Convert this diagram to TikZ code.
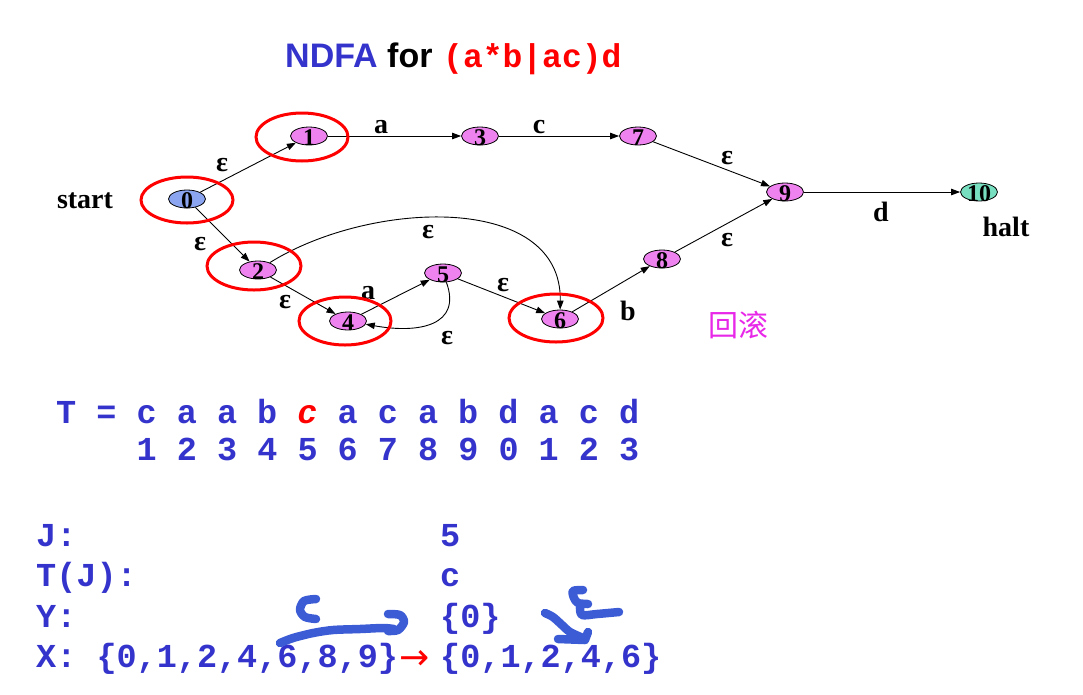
\documentclass[tikz,border=0pt]{standalone}
\usepackage{fontspec}
\setmainfont{Liberation Serif}
\newfontfamily\sansfam{Liberation Sans}
\newfontfamily\monofam{Liberation Mono}
\newfontfamily\cjkfam{Noto Sans CJK SC}
\newfontfamily\symfam{DejaVu Sans}
\usetikzlibrary{arrows.meta,shapes.geometric}

\definecolor{txtblue}{RGB}{52,52,204}
\definecolor{statepink}{RGB}{238,130,238}
\definecolor{startblue}{RGB}{140,165,240}
\definecolor{haltgreen}{RGB}{120,222,192}
\definecolor{penblue}{RGB}{60,92,214}
\definecolor{rollmag}{RGB}{232,40,232}

% digit inside a state: no height, so the ellipse keeps its fixed size
\newcommand\stnum[1]{\raisebox{-0.38em}[0pt][0pt]{#1}}

\begin{document}
\begin{tikzpicture}[x=1pt,y=-1pt,
  state/.style={ellipse, draw=black, line width=0.8pt, fill=statepink,
    minimum width=37pt, minimum height=18pt, inner sep=0pt,
    font=\bfseries\fontsize{24}{24}\selectfont},
  trans/.style={draw, line width=0.9pt, -{Triangle[length=9pt,width=6.5pt]}},
  lab/.style={inner sep=0pt, font=\bfseries\fontsize{28}{28}\selectfont},
  closure/.style={draw=red, line width=3pt},
  code/.style={inner sep=0pt, anchor=base west, text=txtblue,
    font=\monofam\bfseries\fontsize{33.5}{33.5}\selectfont},
  pen/.style={penblue, line width=8.5pt, line cap=round, line join=round}]

\useasboundingbox (0,0) rectangle (1083,694);

% title
\node[inner sep=0pt, anchor=base west, font=\sansfam\bfseries\fontsize{34}{34}\selectfont]
  (title) at (285,67) {\textcolor{txtblue}{NDFA} for};
\node[inner sep=0pt, anchor=base west, text=red,
  font=\monofam\bfseries\fontsize{33}{33}\selectfont]
  (regex) at (443,67) {(a*b|ac)d};

% states
\node[state, fill=startblue] (s0) at (187,199) {\stnum{0}};
\node[state] (s1) at (309,136) {\stnum{1}};
\node[state] (s2) at (258,270) {\stnum{2}};
\node[state] (s3) at (480,136) {\stnum{3}};
\node[state] (s4) at (348,321) {\stnum{4}};
\node[state] (s5) at (443,273) {\stnum{5}};
\node[state] (s6) at (560,319) {\stnum{6}};
\node[state] (s7) at (638,136) {\stnum{7}};
\node[state] (s8) at (662,259) {\stnum{8}};
\node[state] (s9) at (785,192) {\stnum{9}};
\node[state, fill=haltgreen] (s10) at (979,192) {\stnum{10}};

\node[lab] (startlab) at (85,201) {start};
\node[lab] (haltlab) at (1006,227) {halt};

% transitions
\draw[trans] (s0) -- (s1);
\draw[trans] (s0) -- (s2);
\draw[trans] (s1) -- (s3);
\draw[trans] (s3) -- (s7);
\draw[trans] (s7) -- (s9);
\draw[trans] (s2) -- (s4);
\draw[trans] (s2) .. controls (370,200) and (562,192) .. (s6);
\draw[trans] (s4) -- (s5);
\draw[trans] (s5) .. controls (462,325) and (420,334) .. (s4);
\draw[trans] (s5) -- (s6);
\draw[trans] (s6) -- (s8);
\draw[trans] (s8) -- (s9);
\draw[trans] (s9) -- (s10);

% transition labels
\node[lab] (l01) at (222,165) {ε};
\node[lab] (l02) at (200,244) {ε};
\node[lab] (l13) at (381,127) {a};
\node[lab] (l37) at (539,127) {c};
\node[lab] (l79) at (727,158) {ε};
\node[lab] (l24) at (285,302) {ε};
\node[lab] (l26) at (428,232) {ε};
\node[lab] (l45) at (368,293) {a};
\node[lab] (l54) at (447,338) {ε};
\node[lab] (l56) at (503,285) {ε};
\node[lab] (l68) at (628,311) {b};
\node[lab] (l89) at (727,240) {ε};
\node[lab] (l910) at (881,212) {d};

% current closure
\draw[closure] (302,137) ellipse [x radius=46, y radius=24];
\draw[closure] (187,200) ellipse [x radius=46, y radius=23];
\draw[closure] (254,266) ellipse [x radius=47, y radius=24];
\draw[closure] (345,321) ellipse [x radius=46, y radius=24];
\draw[closure] (556,318) ellipse [x radius=47, y radius=24];

\node[inner sep=0pt, text=rollmag, font=\cjkfam\fontsize{30}{30}\selectfont]
  (rollback) at (738,325) {回滚};

% input string and positions
\node[code] (trow) at (56,423) {T = c a a b \textcolor{red}{\itshape c} a c a b d a c d};
\node[code] (nrow) at (136.5,460) {1 2 3 4 5 6 7 8 9 0 1 2 3};

% simulation state
\node[code] (jlab) at (36,546) {J:};
\node[code] (tjlab) at (36,586.5) {T(J):};
\node[code] (ylab) at (36,627) {Y:};
\node[code] (xlab) at (36,667.5) {X: \{0,1,2,4,6,8,9\}};
\node[code] (jval) at (440,546) {5};
\node[code] (tjval) at (440,586.5) {c};
\node[code] (yval) at (440,627) {\{0\}};
\node[code] (xval) at (440,667.5) {\{0,1,2,4,6\}};
\node[inner sep=0pt, text=red, font=\symfam\fontsize{36}{36}\selectfont]
  (xarrow) at (415,660) {→};

% pen marks
\draw[pen] plot[smooth] coordinates {(316,599) (304,601) (300,610) (305,617) (316,619)};
\draw[pen] plot[smooth] coordinates {(280,643) (293,638) (313,633) (333,630) (360,629) (383,628) (394,629)};
\draw[pen] plot[smooth] coordinates {(388,614) (400,615) (404,622) (398,630) (388,631)};
\draw[pen] plot[smooth] coordinates {(545,613) (553,617) (562,625) (570,632) (583,638)};
\draw[pen] (558,639) -- (585,640) -- (588,632);
\draw[pen] plot[smooth] coordinates {(583,590) (573,591) (574,598) (578,603) (588,604)};
\draw[pen] plot[smooth] coordinates {(580,607) (582,615) (597,614) (619,612)};

\end{tikzpicture}
\end{document}
